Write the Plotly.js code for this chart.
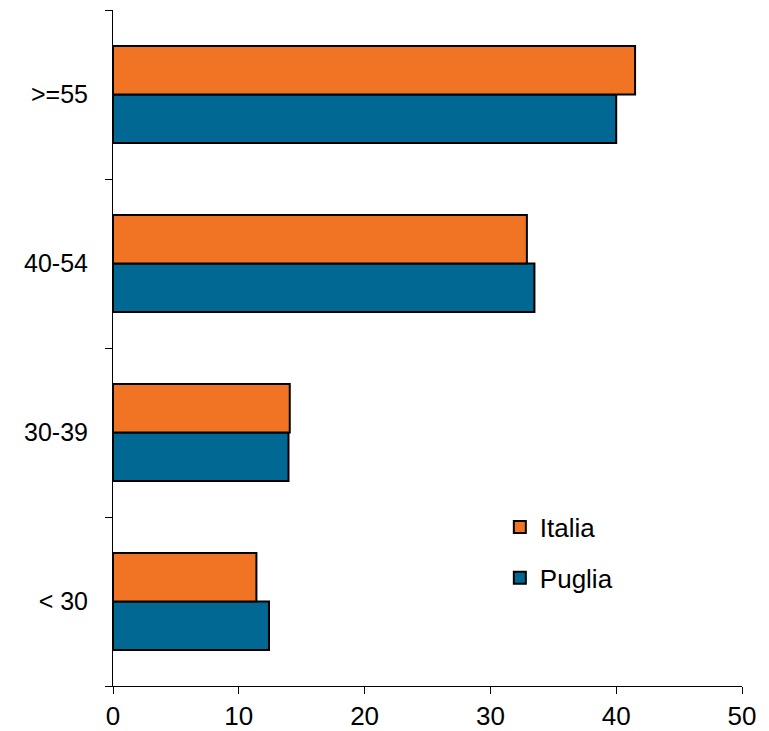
<!DOCTYPE html>
<html>
<head>
<meta charset="utf-8">
<script src="https://cdn.plot.ly/plotly-3.0.1.min.js"></script>
<style>html,body{margin:0;padding:0;background:#fff;}</style>
</head>
<body>
<div id="chart" style="width:769px;height:731px;"></div>
<script>
const categories = ["< 30", "30-39", "40-54", ">=55"];
const italia = [11.4, 14.05, 32.9, 41.5];
const puglia = [12.4, 13.95, 33.5, 40.0];
const seriesNames = ["Italia", "Puglia"];
const xTicks = [0, 10, 20, 30, 40, 50];

const lineStyle = {color: "#000000", width: 2};
const traces = [
  {type: "bar", orientation: "h", name: seriesNames[1], legendgroup: "b", legendrank: 2,
   y: categories, x: puglia, marker: {color: "#006892", line: lineStyle}},
  {type: "bar", orientation: "h", name: seriesNames[0], legendgroup: "a", legendrank: 1,
   y: categories, x: italia, marker: {color: "#F07423", line: lineStyle}}
];

const layout = {
  width: 769, height: 731,
  margin: {l: 113, r: 27, t: 10, b: 45},
  paper_bgcolor: "#ffffff", plot_bgcolor: "#ffffff",
  font: {family: "Liberation Sans, Arial, sans-serif", size: 26, color: "#000"},
  barmode: "group",
  bargap: 0.425,
  bargroupgap: 0,
  showlegend: true,
  legend: {x: 0.615, y: 0.27, xanchor: "left", yanchor: "top",
           traceorder: "grouped", tracegroupgap: 14,
           font: {size: 26}, bgcolor: "rgba(0,0,0,0)"},
  xaxis: {range: [0, 50], tickvals: xTicks, ticks: "outside", ticklen: 7,
          tickcolor: "#000", showline: true, linecolor: "#000", linewidth: 1,
          showgrid: false, zeroline: false, fixedrange: true,
          tickfont: {size: 26}},
  yaxis: {categoryorder: "array", categoryarray: categories,
          ticks: "outside", tickson: "boundaries", ticklen: 7, tickcolor: "#000",
          showline: true, linecolor: "#000", linewidth: 1, showgrid: false,
          zeroline: false, ticklabelstandoff: 19, fixedrange: true,
          tickfont: {size: 25}}
};

Plotly.newPlot("chart", traces, layout, {displayModeBar: false, staticPlot: true});
</script>
</body>
</html>
